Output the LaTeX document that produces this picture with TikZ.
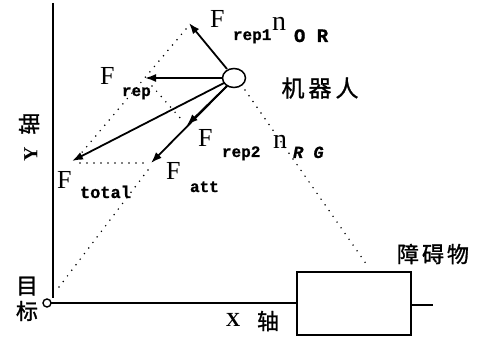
\documentclass[tikz,border=0pt]{standalone}
\usepackage{fontspec}
\setmainfont{Liberation Serif}
\newfontfamily\monofnt{Liberation Mono}[UprightFont={* Bold},ItalicFont={* Bold Italic},FakeBold=0.8]
\newfontfamily\cjk{Noto Sans CJK SC}[FakeBold=1.2]
\usetikzlibrary{arrows.meta,shapes.geometric}
\begin{document}
\begin{tikzpicture}[x=1pt,y=-1pt,
  axisline/.style={line width=1.8pt},
  force/.style={line width=1.8pt,-{Latex[length=11pt,width=8pt]}},
  dotline/.style={line width=1.7pt,dash pattern=on 0pt off 7pt,line cap=round},
  txt/.style={inner sep=0pt,outer sep=0pt,anchor=base west},
  bigF/.style={txt,font=\fontsize{26}{26}\selectfont},
  subf/.style={txt,font=\monofnt\fontsize{16}{16}\selectfont},
  nf/.style={txt,font=\fontsize{28}{28}\selectfont},
  cn/.style={inner sep=0pt,outer sep=0pt,font=\cjk\fontsize{22}{22}\selectfont}]
\useasboundingbox (0,0) rectangle (486,347);
% axes and objects
\coordinate (ytop) at (53,3);
\coordinate (ybot) at (53,298);
\node[draw,circle,line width=1.4pt,minimum size=8pt,inner sep=0pt] (goal) at (47,303) {};
\coordinate (xa) at (51,303);
\node[draw,line width=1.6pt,minimum width=114pt,minimum height=63pt,inner sep=0pt,anchor=north west] (obst) at (296,271) {};
\coordinate (xend) at (433,305);
\draw[axisline] (ytop) -- (ybot);
\draw[axisline] (xa) -- (obst.west |- xa);
\draw[axisline] (obst.east |- xend) -- (xend);
% robot
\node[draw,ellipse,line width=1.5pt,minimum width=23pt,minimum height=19pt,inner sep=0pt] (robot) at (234,78) {};
% force tips
\coordinate (t1) at (189,23);
\coordinate (trep) at (145,78);
\coordinate (ttot) at (72,161);
\coordinate (tatt) at (151,163);
\coordinate (t2) at (187,125);
\coordinate (s1) at (227,69);
\coordinate (srep) at (223,78);
\coordinate (stot) at (224,83);
\coordinate (satt) at (227,86);
% dotted construction lines
\coordinate (d1a) at (186,29);
\coordinate (d1b) at (78,157);
\draw[dotline] (d1a) -- (d1b);
\coordinate (d2a) at (152,86);
\coordinate (d2b) at (181,119);
\draw[dotline] (d2a) -- (d2b);
\coordinate (d3a) at (80,163);
\coordinate (d3b) at (146,163);
\draw[dotline] (d3a) -- (d3b);
\coordinate (d4a) at (148,170);
\coordinate (d4b) at (56,291);
\draw[dotline] (d4a) -- (d4b);
\coordinate (d5a) at (245,90);
\coordinate (d5b) at (369,268);
\draw[dotline] (d5a) -- (d5b);
% forces
\draw[force] (s1) -- (t1);
\draw[force] (srep) -- (trep);
\draw[force] (stot) -- (ttot);
\draw[force] (satt) -- (tatt);
\draw[force] (satt) -- (t2);
% labels
\node[bigF] (f1) at (210,28) {F};
\node[subf] (f1s) at (233,40) {rep1};
\node[nf] (n1) at (272,31) {n};
\node[subf,font=\monofnt\fontsize{19}{19}\selectfont] (n1s) at (294,42) {O R};
\node[bigF] (fr) at (100,85) {F};
\node[subf] (frs) at (122,96) {rep};
\node[bigF] (f2) at (198,147) {F};
\node[subf] (f2s) at (222,157) {rep2};
\node[nf] (n2) at (273,149) {n};
\node[subf,font=\monofnt\itshape\fontsize{17}{17}\selectfont] (n2s) at (293,158) {R G};
\node[bigF] (fa) at (166,179) {F};
\node[subf] (fas) at (190,192) {att};
\node[bigF] (ft) at (57,188) {F};
\node[subf,font=\monofnt\fontsize{17}{17}\selectfont] (fts) at (80,198) {total};
% Chinese labels
\node[cn,font=\cjk\fontsize{23}{23}\selectfont] (robotlbl) at (320,88) {机\hspace{4pt}器\hspace{4pt}人};
\node[cn,font=\cjk\fontsize{22}{22}\selectfont] (obstlbl) at (433,254) {障\hspace{3pt}碍\hspace{3pt}物};
\node[cn,rotate=90] (ylbl) at (29,137) {{\rmfamily\bfseries\fontsize{20}{20}\selectfont Y}\hspace{12pt}轴};
\node[cn] (mu) at (27,286) {目};
\node[cn] (biao) at (27,311) {标};
\node[cn,font=\rmfamily\bfseries\fontsize{20}{20}\selectfont] (xl) at (233,320) {X};
\node[cn] (xz) at (268,321) {轴};
\end{tikzpicture}
\end{document}
